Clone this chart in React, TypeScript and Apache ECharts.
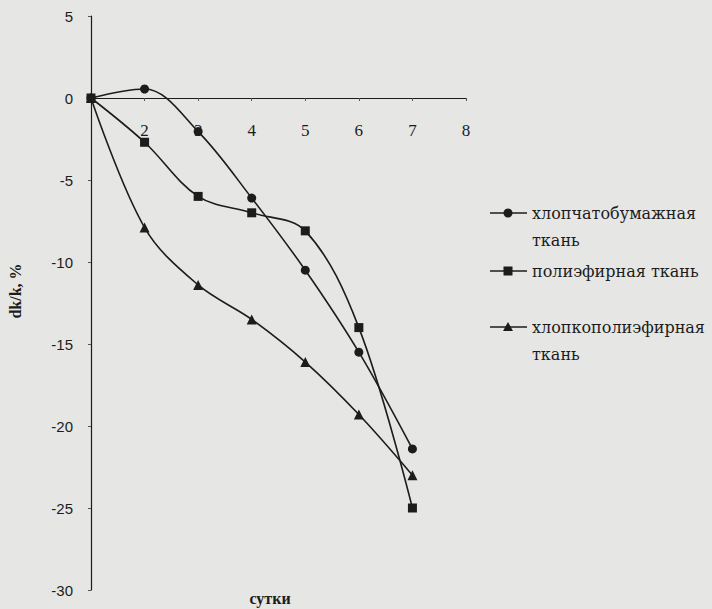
import React, { useEffect, useRef } from "react";
import * as echarts from "echarts";

const days = [1, 2, 3, 4, 5, 6, 7];
const cottonValues = [0, 0.55, -2.05, -6.1, -10.5, -15.5, -21.4];
const polyesterValues = [0, -2.7, -6.0, -7.0, -8.1, -14.0, -25.0];
const blendValues = [0, -7.9, -11.4, -13.5, -16.1, -19.3, -23.0];
const seriesNames = ["хлопчатобумажная ткань", "полиэфирная ткань", "хлопкополиэфирная ткань"];
const legendLines = [["хлопчатобумажная", "ткань"], ["полиэфирная ткань"], ["хлопкополиэфирная", "ткань"]];
const xTicks = [1, 2, 3, 4, 5, 6, 7, 8];
const yTicks = [5, 0, -5, -10, -15, -20, -25, -30];
const xName = "сутки";
const yName = "dk/k, %";

const INK = "#1c1c1c";
const GRID_TOP = 16;
const GRID_BOTTOM = 19;
const HEIGHT = 609;

export default function App() {
  const ref = useRef<HTMLDivElement>(null);
  useEffect(() => {
    if (!ref.current) return;
    const chart = echarts.init(ref.current, undefined, { renderer: "svg" });
    const pair = (vals: number[]) => days.map((d, i) => [d, vals[i]]);
    const symbols = ["circle", "rect", "triangle"];
    const sizes = [9, 9, 10];
    const allVals = [cottonValues, polyesterValues, blendValues];
    const series = allVals.map((vals, i) => ({
      name: seriesNames[i],
      type: "line",
      data: pair(vals),
      smooth: 0.35,
      symbol: symbols[i],
      symbolSize: sizes[i],
      showSymbol: true,
      lineStyle: { color: INK, width: 1.6 },
      itemStyle: { color: INK },
      z: 3,
    }));

    const yMax = yTicks[0];
    const yMin = yTicks[yTicks.length - 1];
    const plotH = HEIGHT - GRID_TOP - GRID_BOTTOM;
    const zeroFromBottom = ((0 - yMin) / (yMax - yMin)) * plotH;

    const legendY = [213, 271, 327];
    const graphics: any[] = [];
    legendY.forEach((y, i) => {
      graphics.push({
        type: "line",
        shape: { x1: 490, y1: y, x2: 527, y2: y },
        style: { stroke: INK, lineWidth: 1.6 },
      });
      if (i === 0) {
        graphics.push({ type: "circle", shape: { cx: 508, cy: y, r: 4.5 }, style: { fill: INK } });
      } else if (i === 1) {
        graphics.push({ type: "rect", shape: { x: 503.5, y: y - 4.5, width: 9, height: 9 }, style: { fill: INK } });
      } else {
        graphics.push({
          type: "polygon",
          shape: { points: [[508, y - 5], [513, y + 4], [503, y + 4]] },
          style: { fill: INK },
        });
      }
      legendLines[i].forEach((t, j) => {
        graphics.push({
          type: "text",
          x: 532,
          y: y + j * 27,
          style: {
            text: t,
            fill: INK,
            font: "16px 'DejaVu Serif'",
            textAlign: "left",
            textVerticalAlign: "middle",
          },
        });
      });
    });
    graphics.push({
      type: "text",
      x: 270,
      y: 598,
      style: {
        text: xName,
        fill: INK,
        font: "bold 16px 'Liberation Serif'",
        textAlign: "center",
        textVerticalAlign: "middle",
      },
    });
    graphics.push({
      type: "text",
      x: 15,
      y: 291,
      rotation: Math.PI / 2,
      style: {
        text: yName,
        fill: INK,
        font: "bold 16px 'Liberation Serif'",
        textAlign: "center",
        textVerticalAlign: "middle",
      },
    });

    chart.setOption({
      animation: false,
      backgroundColor: "#e6e6e4",
      grid: { left: 91, right: 246, top: GRID_TOP, bottom: GRID_BOTTOM, containLabel: false },
      xAxis: {
        type: "value",
        position: "bottom",
        offset: -zeroFromBottom,
        min: xTicks[0],
        max: xTicks[xTicks.length - 1],
        interval: 1,
        axisLine: { onZero: false, lineStyle: { color: INK, width: 1.2 } },
        axisTick: { show: true, length: 3, inside: false, lineStyle: { color: "#555" } },
        axisLabel: {
          margin: 24,
          color: INK,
          fontFamily: "Liberation Serif",
          fontSize: 17,
          formatter: (v: number) => (v === xTicks[0] ? "" : String(v)),
        },
        splitLine: { show: false },
      },
      yAxis: {
        type: "value",
        min: yMin,
        max: yMax,
        interval: 5,
        axisLine: { show: true, onZero: false, lineStyle: { color: INK, width: 1.2 } },
        axisTick: { show: true, length: 3, lineStyle: { color: "#555" } },
        axisLabel: {
          margin: 18,
          color: INK,
          fontFamily: "Liberation Sans",
          fontSize: 15,
          formatter: (v: number) => (v < 0 ? "-" + Math.abs(v) : String(v)),
        },
        splitLine: { show: false },
      },
      legend: { show: false },
      series,
      graphic: graphics,
    });
    return () => chart.dispose();
  }, []);
  return (
    <div
      ref={ref}
      style={{ position: "fixed", left: 0, top: 0, width: 712, height: 609 }}
    />
  );
}
